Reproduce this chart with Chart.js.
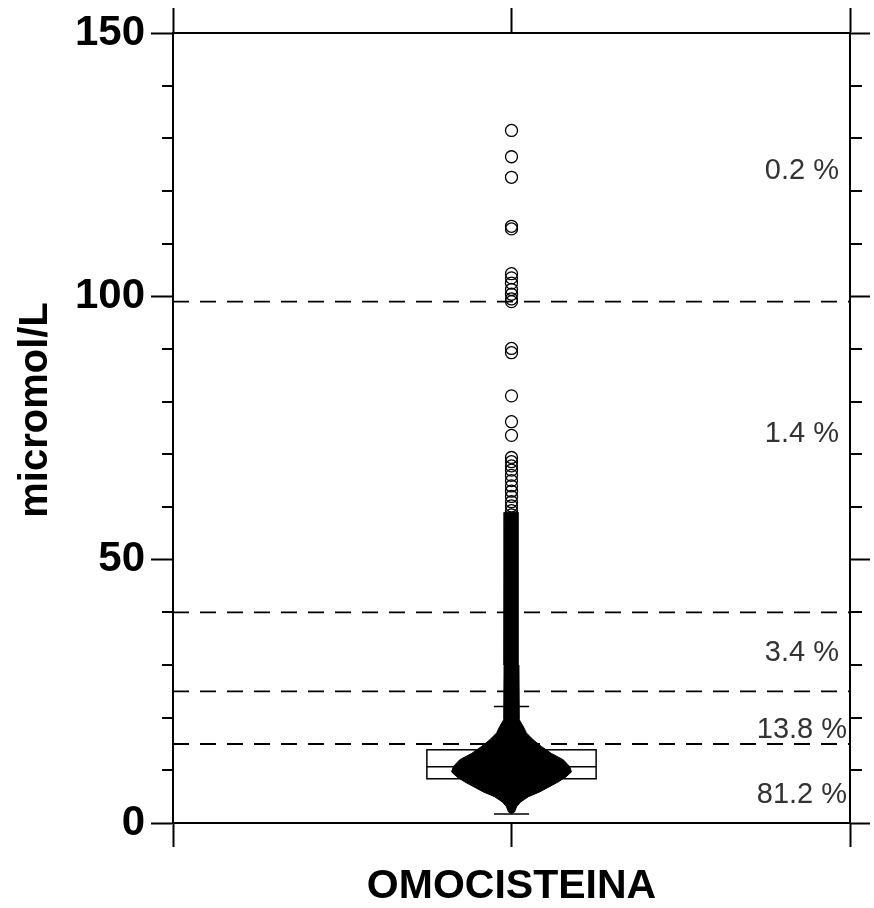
<!DOCTYPE html>
<html>
<head>
<meta charset="utf-8">
<script src="https://cdn.jsdelivr.net/npm/chart.js@4/dist/chart.umd.min.js"></script>
<style>
  html, body { margin: 0; padding: 0; background: #fff; }
</style>
</head>
<body>
<canvas id="myChart" width="874" height="908"></canvas>
<script>
// Werte
const category = 'OMOCISTEINA';
const yTitle = 'micromol/L';
const yMinorTicks = [10, 20, 30, 40, 60, 70, 80, 90, 110, 120, 130, 140];
const cutoffs = [99, 40, 25, 15];
const shareLabels = ['0.2 %', '1.4 %', '3.4 %', '13.8 %', '81.2 %'];
const shareLabelAt = [123.8, 73.9, 32.3, 17.75, 5.3];
const boxStats = { low: 1.7, q1: 8.4, median: 10.7, q3: 13.9, high: 22.1 };

// Verteilung (Breite der Punktwolke je Wert)
const densityLevels = [1.8, 2.1, 3.1, 4.0, 5.0, 5.9, 6.9, 7.8, 8.8, 9.7, 10.7, 12.0, 13.2, 14.5, 15.8, 17.1, 18.3, 19.6, 30, 59];
const densityWidth  = [0, 0.009, 0.015, 0.027, 0.050, 0.083, 0.112, 0.138, 0.162, 0.177, 0.172, 0.153, 0.118, 0.089, 0.064, 0.044, 0.035, 0.023, 0.022, 0.020];

// Ausreisser
const outliers = [131.5, 126.5, 122.6, 113.3, 112.8, 104.3, 103.5, 102.5, 101.3, 100.4, 99.5, 99.0,
  90.1, 89.3, 81.1, 76.2, 73.6, 69.4, 68.6, 67.8, 67.0, 66.0, 65.0, 64.0, 63.0, 62.0, 61.0,
  60.2, 59.3, 58.5, 57.5, 56.5, 55.5];

const font = "'Liberation Sans', Arial, sans-serif";

const densityData = densityLevels.map((v, i) => ({ x: densityWidth[i], y: v }))
  .concat(densityLevels.map((v, i) => ({ x: -densityWidth[i], y: v })).reverse());

const cutoffSets = cutoffs.map(c => ({
  data: [{ x: -1, y: c }, { x: 1, y: c }],
  showLine: true,
  borderColor: '#000',
  borderWidth: 1.8,
  borderDash: [16, 11],
  pointRadius: 0
}));

const extras = {
  id: 'extras',
  beforeDatasetsDraw(chart) {
    const { ctx, scales: { x, y } } = chart;
    ctx.save();
    ctx.strokeStyle = '#000';
    ctx.lineWidth = 1.5;
    // Box
    const bx1 = x.getPixelForValue(-0.25), bx2 = x.getPixelForValue(0.25);
    const cx = x.getPixelForValue(0);
    const top = y.getPixelForValue(boxStats.q3), bot = y.getPixelForValue(boxStats.q1);
    ctx.fillStyle = '#fff';
    ctx.fillRect(bx1, top, bx2 - bx1, bot - top);
    ctx.strokeRect(bx1, top, bx2 - bx1, bot - top);
    ctx.beginPath();
    ctx.moveTo(bx1, y.getPixelForValue(boxStats.median));
    ctx.lineTo(bx2, y.getPixelForValue(boxStats.median));
    // Whisker
    const c1 = x.getPixelForValue(-0.052), c2 = x.getPixelForValue(0.052);
    [boxStats.low, boxStats.high].forEach(v => {
      ctx.moveTo(c1, y.getPixelForValue(v));
      ctx.lineTo(c2, y.getPixelForValue(v));
    });
    ctx.moveTo(cx, y.getPixelForValue(boxStats.low));
    ctx.lineTo(cx, bot);
    ctx.moveTo(cx, top);
    ctx.lineTo(cx, y.getPixelForValue(boxStats.high));
    ctx.stroke();
    ctx.restore();
  },
  afterDraw(chart) {
    const { ctx, chartArea, scales: { x, y } } = chart;
    ctx.save();
    ctx.strokeStyle = '#000';
    ctx.lineWidth = 2;
    ctx.beginPath();
    yMinorTicks.forEach(v => {
      const py = Math.round(y.getPixelForValue(v));
      ctx.moveTo(chartArea.left - 11, py);
      ctx.lineTo(chartArea.left, py);
      ctx.moveTo(chartArea.right, py);
      ctx.lineTo(chartArea.right + 12, py);
    });
    ctx.stroke();

    // Anteile
    ctx.fillStyle = '#333';
    ctx.font = '29px ' + font;
    ctx.textAlign = 'center';
    ctx.textBaseline = 'middle';
    shareLabels.forEach((t, i) => {
      ctx.fillText(t, x.getPixelForValue(0.858), y.getPixelForValue(shareLabelAt[i]));
    });

    // Achsentitel
    ctx.fillStyle = '#000';
    ctx.font = 'bold 40px ' + font;
    ctx.translate(36, 410);
    ctx.rotate(-Math.PI / 2);
    ctx.fillText(yTitle, 0, 0);
    ctx.restore();
  }
};

const ctx = document.getElementById('myChart').getContext('2d');
const myChart = new Chart(ctx, {
  type: 'scatter',
  data: {
    datasets: [
      {
        data: outliers.map(v => ({ x: 0, y: v })),
        pointRadius: 6,
        pointBackgroundColor: 'rgba(255,255,255,0)',
        pointBorderColor: '#000',
        pointBorderWidth: 1.3
      },
      {
        data: densityData,
        showLine: true,
        fill: 'shape',
        backgroundColor: '#000',
        borderColor: '#000',
        borderWidth: 1,
        pointRadius: 0,
        tension: 0
      },
      ...cutoffSets
    ]
  },
  options: {
    responsive: false,
    animation: false,
    devicePixelRatio: 1,
    layout: { padding: { top: 8, left: 0, right: 0, bottom: 0 } },
    plugins: { legend: { display: false }, tooltip: { enabled: false } },
    scales: {
      x: {
        type: 'linear', position: 'bottom', min: -1, max: 1,
        afterFit: s => { s.height = 85; },
        ticks: {
          stepSize: 1,
          padding: 19,
          color: '#000',
          maxRotation: 0,
          minRotation: 0,
          autoSkip: false,
          font: { family: font, size: 41, weight: 'bold', lineHeight: 1 },
          callback: v => (v === 0 ? category : '')
        },
        grid: { drawOnChartArea: false, tickLength: 24, tickColor: '#000', tickWidth: 2 },
        border: { color: '#000', width: 2 }
      },
      x2: {
        type: 'linear', position: 'top', min: -1, max: 1,
        afterFit: s => { s.height = 25; },
        ticks: { stepSize: 1, display: false },
        grid: { drawOnChartArea: false, tickLength: 25, tickColor: '#000', tickWidth: 2 },
        border: { color: '#000', width: 2 }
      },
      y: {
        type: 'linear', position: 'left', min: 0, max: 150,
        afterFit: s => { s.width = 173; },
        ticks: {
          stepSize: 50,
          padding: 6,
          color: '#000',
          font: { family: font, size: 42, weight: 'bold', lineHeight: 1 }
        },
        grid: { drawOnChartArea: false, tickLength: 22, tickColor: '#000', tickWidth: 2 },
        border: { color: '#000', width: 2 }
      },
      y2: {
        type: 'linear', position: 'right', min: 0, max: 150,
        afterFit: s => { s.width = 24; },
        ticks: { stepSize: 50, display: false },
        grid: { drawOnChartArea: false, tickLength: 20, tickColor: '#000', tickWidth: 2 },
        border: { color: '#000', width: 2 }
      }
    }
  },
  plugins: [extras]
});
</script>
</body>
</html>
